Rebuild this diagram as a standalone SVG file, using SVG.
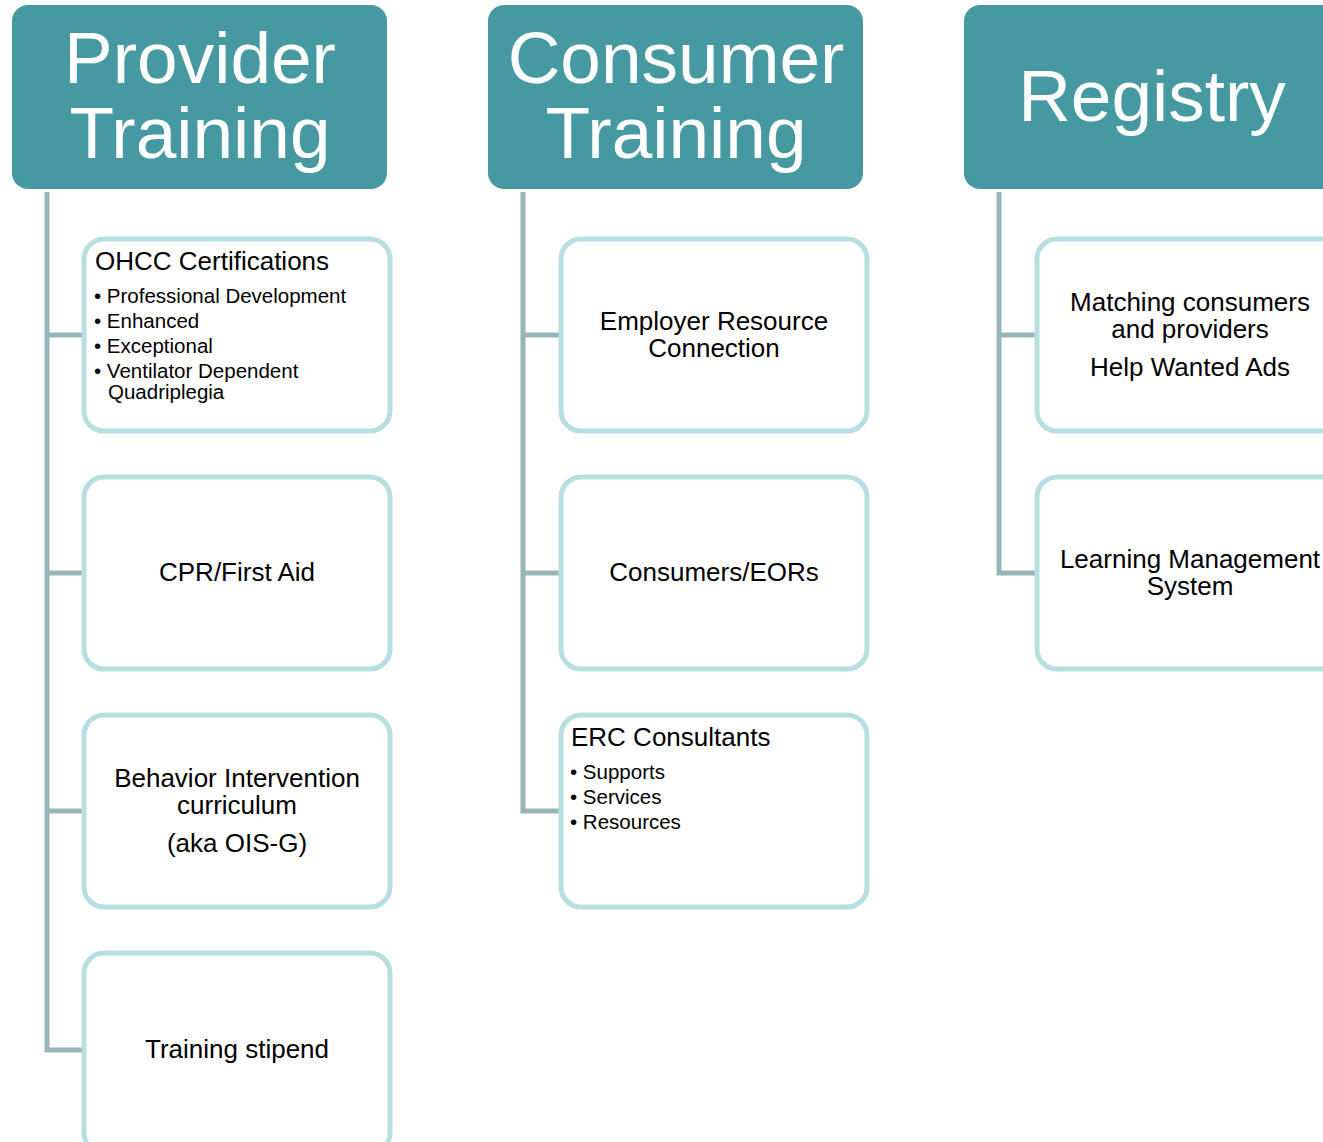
<svg xmlns="http://www.w3.org/2000/svg" width="1323" height="1142" viewBox="0 0 1323 1142">
<style>
.hdr{fill:#4799A1}
.hdrt{font-family:"Liberation Sans",Arial,sans-serif;font-size:73px;fill:#fff;text-anchor:middle}
.box{fill:#fff;stroke:#B7DFE1;stroke-width:5}
.t{font-family:"Liberation Sans",Arial,sans-serif;font-size:26px;fill:#000}
.c{text-anchor:middle}
.b{font-family:"Liberation Sans",Arial,sans-serif;font-size:20.5px;fill:#000}
.ln{fill:none;stroke:#97B5B8;stroke-width:5}
</style>
<g id="connectors">
<path class="ln" d="M47 192 V1050 H84 M47 335 H84 M47 573 H84 M47 811 H84"/>
<path class="ln" d="M523 192 V811 H561 M523 335 H561 M523 573 H561"/>
<path class="ln" d="M999 192 V573 H1037 M999 335 H1037"/>
</g>
<g id="provider-training">
<rect class="hdr" x="12" y="5" width="375" height="184" rx="16"/>
<text class="hdrt" x="200" y="83">Provider</text>
<text class="hdrt" x="200" y="158">Training</text>
</g>
<g id="consumer-training">
<rect class="hdr" x="488" y="5" width="375" height="184" rx="16"/>
<text class="hdrt" x="676" y="83">Consumer</text>
<text class="hdrt" x="676" y="158">Training</text>
</g>
<g id="registry">
<rect class="hdr" x="964" y="5" width="380" height="184" rx="16"/>
<text class="hdrt" x="1152" y="121">Registry</text>
</g>
<g id="ohcc">
<rect class="box" x="84" y="239" width="306" height="192" rx="20"/>
<text class="t" x="95" y="270">OHCC Certifications</text>
<text class="b" x="94" y="303">• Professional Development</text>
<text class="b" x="94" y="328">• Enhanced</text>
<text class="b" x="94" y="353">• Exceptional</text>
<text class="b" x="94" y="378">• Ventilator Dependent</text>
<text class="b" x="108" y="399">Quadriplegia</text>
</g>
<g id="cpr">
<rect class="box" x="84" y="477" width="306" height="192" rx="20"/>
<text class="t c" x="237" y="581">CPR/First Aid</text>
</g>
<g id="behavior">
<rect class="box" x="84" y="715" width="306" height="192" rx="20"/>
<text class="t c" x="237" y="787">Behavior Intervention</text>
<text class="t c" x="237" y="814">curriculum</text>
<text class="t c" x="237" y="852">(aka OIS-G)</text>
</g>
<g id="stipend">
<rect class="box" x="84" y="953" width="306" height="200" rx="20"/>
<text class="t c" x="237" y="1058">Training stipend</text>
</g>
<g id="employer">
<rect class="box" x="561" y="239" width="306" height="192" rx="20"/>
<text class="t c" x="714" y="330">Employer Resource</text>
<text class="t c" x="714" y="357">Connection</text>
</g>
<g id="consumers">
<rect class="box" x="561" y="477" width="306" height="192" rx="20"/>
<text class="t c" x="714" y="581">Consumers/EORs</text>
</g>
<g id="erc">
<rect class="box" x="561" y="715" width="306" height="192" rx="20"/>
<text class="t" x="571" y="746">ERC Consultants</text>
<text class="b" x="570" y="779">• Supports</text>
<text class="b" x="570" y="804">• Services</text>
<text class="b" x="570" y="829">• Resources</text>
</g>
<g id="matching">
<rect class="box" x="1037" y="239" width="306" height="192" rx="20"/>
<text class="t c" x="1190" y="311">Matching consumers</text>
<text class="t c" x="1190" y="338">and providers</text>
<text class="t c" x="1190" y="376">Help Wanted Ads</text>
</g>
<g id="lms">
<rect class="box" x="1037" y="477" width="306" height="192" rx="20"/>
<text class="t c" x="1190" y="568">Learning Management</text>
<text class="t c" x="1190" y="595">System</text>
</g>
</svg>
